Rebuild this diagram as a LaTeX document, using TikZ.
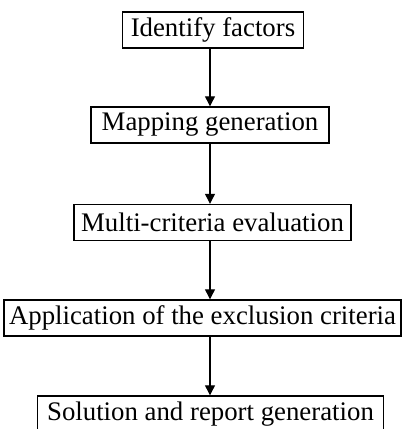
\documentclass[tikz,border=0pt]{standalone}
\usepackage{fontspec}
\setmainfont{Liberation Serif}
\usetikzlibrary{arrows.meta,positioning}

\begin{document}
\begin{tikzpicture}[x=1pt,y=-1pt,
    box/.style={draw,line width=1.4pt,inner sep=0pt,minimum height=36pt,
      font=\fontsize{26.8}{30}\selectfont},
    flow/.style={line width=1.2pt,-{Triangle[length=10pt,width=10pt]}}]
  \useasboundingbox (0,0) rectangle (403,429);
  \coordinate (spine) at (210,0);

  \node[box,minimum width=181pt] (s_identify) at (213,30) {Identify factors};
  \node[box,minimum width=238pt] (s_mapping) at (210,125) {Mapping generation};
  \node[box,minimum width=277pt] (s_multi) at (212.5,222.5) {Multi-criteria evaluation};
  \node[box,minimum width=397pt] (s_exclusion) at (202.5,318) {Application of the exclusion criteria};
  \node[box,minimum width=346pt] (s_report) at (210.5,414) {Solution and report generation};

  \path[flow]
    (s_identify.south -| spine) edge (s_mapping.north -| spine)
    (s_mapping.south -| spine) edge (s_multi.north -| spine)
    (s_multi.south -| spine) edge (s_exclusion.north -| spine)
    (s_exclusion.south -| spine) edge (s_report.north -| spine);
\end{tikzpicture}
\end{document}
